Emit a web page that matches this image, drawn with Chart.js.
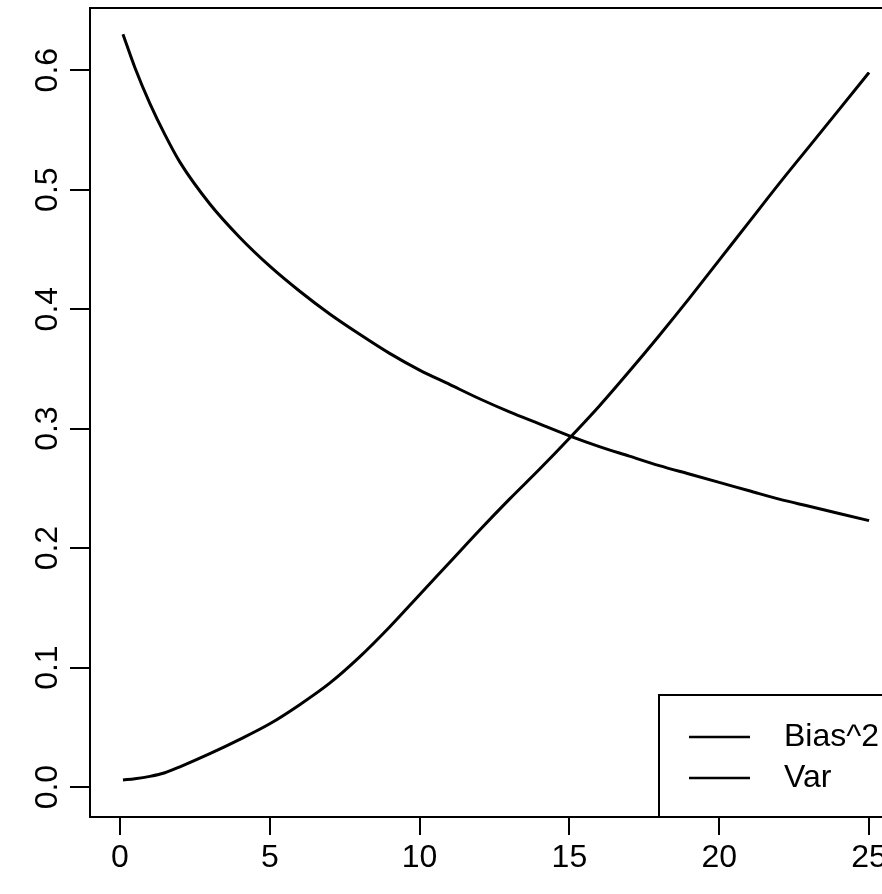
<!DOCTYPE html>
<html>
<head>
<meta charset="utf-8">
<script src="https://cdn.jsdelivr.net/npm/chart.js@4/dist/chart.umd.min.js"></script>
<style>
  html, body { margin: 0; padding: 0; background: #fff; overflow: hidden; }
  #wrap { width: 882px; height: 894px; overflow: hidden; }
  canvas { display: block; }
</style>
</head>
<body>
<div id="wrap"><canvas id="grafico" width="920" height="894"></canvas></div>
<script>
// valores
var lambdas = [0.1, 0.5, 1, 1.5, 2, 3, 4, 5, 6, 7, 8, 9, 10, 11, 12, 13,
               14, 15, 16, 17, 18, 19, 20, 21, 22, 23, 24, 25];
var bias2 = [0.006, 0.007, 0.009, 0.012, 0.017, 0.028, 0.040, 0.053, 0.069, 0.087,
             0.109, 0.134, 0.161, 0.188, 0.215, 0.241, 0.266, 0.292, 0.319, 0.348,
             0.378, 0.409, 0.441, 0.473, 0.505, 0.536, 0.567, 0.598];
var variancia = [0.630, 0.602, 0.572, 0.546, 0.523, 0.488, 0.460, 0.436, 0.415, 0.396,
                 0.379, 0.363, 0.349, 0.337, 0.325, 0.314, 0.304, 0.294, 0.285, 0.277,
                 0.269, 0.262, 0.255, 0.248, 0.241, 0.235, 0.229, 0.223];
var nomesSeries = ["Bias^2", "Var"];
var xTicks = [0, 5, 10, 15, 20, 25];
var yTicks = [0, 0.1, 0.2, 0.3, 0.4, 0.5, 0.6];

var FONTE = "'Liberation Sans', Arial, Helvetica, sans-serif";

function pontos(ys) {
    return lambdas.map(function (x, k) { return { x: x, y: ys[k] }; });
}

// moldura do gráfico + legenda no canto inferior direito (estilo R)
var molduraR = {
    id: "molduraR",
    afterDraw: function (chart) {
        var ctx = chart.ctx, a = chart.chartArea;
        ctx.save();
        ctx.strokeStyle = "#000";
        ctx.lineWidth = 2;
        ctx.strokeRect(a.left, a.top, a.right - a.left, a.bottom - a.top);

        // legenda
        var bx = 659, by = 695;
        ctx.fillStyle = "#fff";
        ctx.fillRect(bx, by, chart.width - bx, a.bottom - by);
        ctx.strokeRect(bx, by, chart.width, a.bottom - by);
        ctx.font = "32px " + FONTE;
        ctx.textBaseline = "middle";
        ctx.textAlign = "left";
        ctx.fillStyle = "#000";
        chart.data.datasets.forEach(function (ds, k) {
            var yy = 737 + k * 41;
            ctx.beginPath();
            ctx.lineWidth = 2.5;
            ctx.moveTo(689, yy);
            ctx.lineTo(750, yy);
            ctx.stroke();
            ctx.fillText(ds.label, 784, yy);
        });
        ctx.restore();
    }
};

function semPadding(s) {
    s.paddingTop = 0; s.paddingBottom = 0;
    s.paddingLeft = 0; s.paddingRight = 0;
}

new Chart(document.getElementById("grafico").getContext("2d"), {
    type: "line",
    data: {
        datasets: [
            { label: nomesSeries[0], data: pontos(bias2) },
            { label: nomesSeries[1], data: pontos(variancia) }
        ]
    },
    options: {
        responsive: false,
        animation: false,
        layout: { padding: { top: 8, right: 21, left: 0, bottom: 0 } },
        elements: {
            line: { borderColor: "#000", borderWidth: 3, cubicInterpolationMode: "monotone" },
            point: { radius: 0 }
        },
        plugins: {
            legend: { display: false },
            tooltip: { enabled: false }
        },
        scales: {
            x: {
                type: "linear",
                min: -1,
                max: 26,
                afterBuildTicks: function (s) { s.ticks = xTicks.map(function (v) { return { value: v }; }); },
                afterFit: function (s) { s.height = 77; semPadding(s); },
                grid: { drawOnChartArea: false, drawTicks: true, tickLength: 18, color: "#000", lineWidth: 2 },
                border: { display: true, color: "#000", width: 2 },
                ticks: { color: "#000", font: { family: FONTE, size: 32 }, padding: 4, maxRotation: 0 }
            },
            y: {
                type: "linear",
                min: -0.025,
                max: 0.652,
                afterBuildTicks: function (s) { s.ticks = yTicks.map(function (v) { return { value: v }; }); },
                afterFit: function (s) { s.width = 90; semPadding(s); },
                grid: { drawOnChartArea: false, drawTicks: true, tickLength: 20, color: "#000", lineWidth: 2 },
                border: { display: true, color: "#000", width: 2 },
                ticks: {
                    color: "#000",
                    font: { family: FONTE, size: 32 },
                    padding: 0,
                    minRotation: 90,
                    maxRotation: 90,
                    crossAlign: "center",
                    callback: function (v) { return v.toFixed(1); }
                }
            }
        }
    },
    plugins: [molduraR]
});
</script>
</body>
</html>
